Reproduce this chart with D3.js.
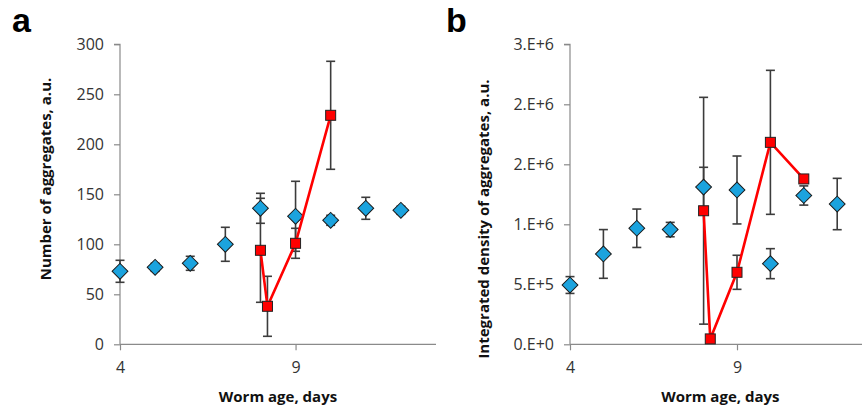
<!DOCTYPE html>
<html>
<head>
<meta charset="utf-8">
<script src="https://cdn.jsdelivr.net/npm/d3@7"></script>
<style>
  html, body { margin: 0; padding: 0; background: #fff; }
  svg { display: block; }
  .tick-label { font-family: "Open Sans", sans-serif; font-size: 16px; fill: #333; }
  .axis-title { font-family: "Open Sans", sans-serif; font-weight: bold; font-size: 15px; fill: #111; }
  .panel-letter { font-family: "Liberation Sans", Arial, sans-serif; font-weight: bold; font-size: 34px; fill: #000; }
</style>
</head>
<body>
<svg id="chart" width="862" height="410"></svg>
<script>
// Worm age (days) for each series
const ageControl = [4, 5, 6, 7, 8, 9, 10, 11, 12];
const ageShiftA = [8, 8.2, 9, 10];
const ageShiftB = [8, 8.2, 9, 10, 11];

// Panel a: number of aggregates (mean and error)
const countControl = [73, 77, 81, 100, 136, 128, 124, 136, 134];
const countControlErr = [11, 4, 7, 17, 15, 35, 5, 11, 4];
const countShift = [94, 38, 101, 229];
const countShiftErr = [52, 30, 15, 54];

// Panel b: integrated density of aggregates (mean and error)
const densControl = [494000, 753000, 967000, 956000, 1310000, 1286000, 672000, 1240000, 1169000];
const densControlErr = [70000, 203000, 160000, 60000, 165000, 283000, 125000, 80000, 214000];
const densShift = [1113000, 45000, 600000, 1683000, 1378000];
const densShiftErr = [945000, 20000, 142000, 600000, 25000];

// Axis ticks and their labels
const xTicks = [4, 9];
const yTicksA = [0, 50, 100, 150, 200, 250, 300];
const yTicksB = [0, 500000, 1000000, 1500000, 2000000, 2500000];
const yTickLabelsB = ["0.E+0", "5.E+5", "1.E+6", "2.E+6", "2.E+6", "3.E+6"];

const svg = d3.select("#chart");
const AXIS = "#8a8a8a";
const ERR = "#3c3c3c";
const BLUE = "#1ba3de";
const RED = "#ff0000";

function panel(opts) {
  const g = svg.append("g");
  const x = d3.scaleLinear().domain([4, 13]).range([opts.left, opts.right]);
  const y = d3.scaleLinear().domain([0, opts.yMax]).range([344.3, 44.3]);

  // y axis
  const yAxis = d3.axisLeft(y).tickValues(opts.yTicks).tickSize(6).tickPadding(10)
    .tickFormat((d, i) => opts.yLabels ? opts.yLabels[i] : d);
  const ya = g.append("g").attr("transform", `translate(${opts.left},0)`).call(yAxis);
  ya.select(".domain").attr("d", `M-6,${y(opts.yMax)}H0V${y(0)}`);

  // x axis
  const xAxis = d3.axisBottom(x).tickValues(xTicks).tickSize(6).tickPadding(11).tickFormat(d3.format("d"));
  const xa = g.append("g").attr("transform", `translate(0,${y(0)})`).call(xAxis);
  xa.select(".domain").attr("d", `M${opts.left},0H${opts.right}`);

  [ya, xa].forEach(a => {
    a.selectAll(".domain, .tick line").attr("stroke", AXIS).attr("stroke-width", 1.2);
    a.selectAll(".tick text").attr("class", "tick-label").attr("fill", null);
  });

  // error bars
  function errorBars(xs, ys, es) {
    const eg = g.append("g");
    xs.forEach((d, i) => {
      const cx = x(d), top = y(ys[i] + es[i]), bot = y(Math.max(0, ys[i] - es[i]));
      eg.append("line").attr("x1", cx).attr("x2", cx).attr("y1", top).attr("y2", bot);
      eg.append("line").attr("x1", cx - 4.5).attr("x2", cx + 4.5).attr("y1", top).attr("y2", top);
      eg.append("line").attr("x1", cx - 4.5).attr("x2", cx + 4.5).attr("y1", bot).attr("y2", bot);
    });
    eg.selectAll("line").attr("stroke", ERR).attr("stroke-width", 1.6);
  }
  errorBars(ageControl, opts.control, opts.controlErr);
  errorBars(opts.shiftAge, opts.shift, opts.shiftErr);

  // control series: diamonds
  g.append("g").selectAll("path").data(ageControl).join("path")
    .attr("d", d3.symbol(d3.symbolSquare, 125))
    .attr("transform", (d, i) => `translate(${x(d)},${y(opts.control[i])}) rotate(45)`)
    .attr("fill", BLUE).attr("stroke", "#1a1a1a").attr("stroke-width", 1);

  // shifted series: red line with squares
  const line = d3.line().x((d, i) => x(d)).y((d, i) => y(opts.shift[i]));
  g.append("path").datum(opts.shiftAge).attr("d", line)
    .attr("fill", "none").attr("stroke", RED).attr("stroke-width", 2.6);
  g.append("g").selectAll("rect").data(opts.shiftAge).join("rect")
    .attr("x", d => x(d) - 5).attr("y", (d, i) => y(opts.shift[i]) - 5)
    .attr("width", 10).attr("height", 10)
    .attr("fill", RED).attr("stroke", "#222").attr("stroke-width", 1);

  // titles
  g.append("text").attr("class", "axis-title")
    .attr("x", (opts.left + opts.right) / 2).attr("y", 402)
    .attr("text-anchor", "middle").text("Worm age, days");
  g.append("text").attr("class", "axis-title")
    .attr("transform", `translate(${opts.yTitleX},${opts.yTitleY}) rotate(-90)`)
    .attr("text-anchor", "middle").text(opts.yTitle);
  g.append("text").attr("class", "panel-letter")
    .attr("x", opts.letterX).attr("y", 32).text(opts.letter);
}

panel({
  left: 120, right: 436, yMax: 300, yTicks: yTicksA,
  control: countControl, controlErr: countControlErr,
  shiftAge: ageShiftA, shift: countShift, shiftErr: countShiftErr,
  yTitle: "Number of aggregates, a.u.", yTitleX: 51, yTitleY: 179,
  letter: "a", letterX: 12
});

panel({
  left: 570, right: 870.6, yMax: 2500000, yTicks: yTicksB, yLabels: yTickLabelsB,
  control: densControl, controlErr: densControlErr,
  shiftAge: ageShiftB, shift: densShift, shiftErr: densShiftErr,
  yTitle: "Integrated density of aggregates, a.u.", yTitleX: 489, yTitleY: 219,
  letter: "b", letterX: 446
});
</script>
</body>
</html>
